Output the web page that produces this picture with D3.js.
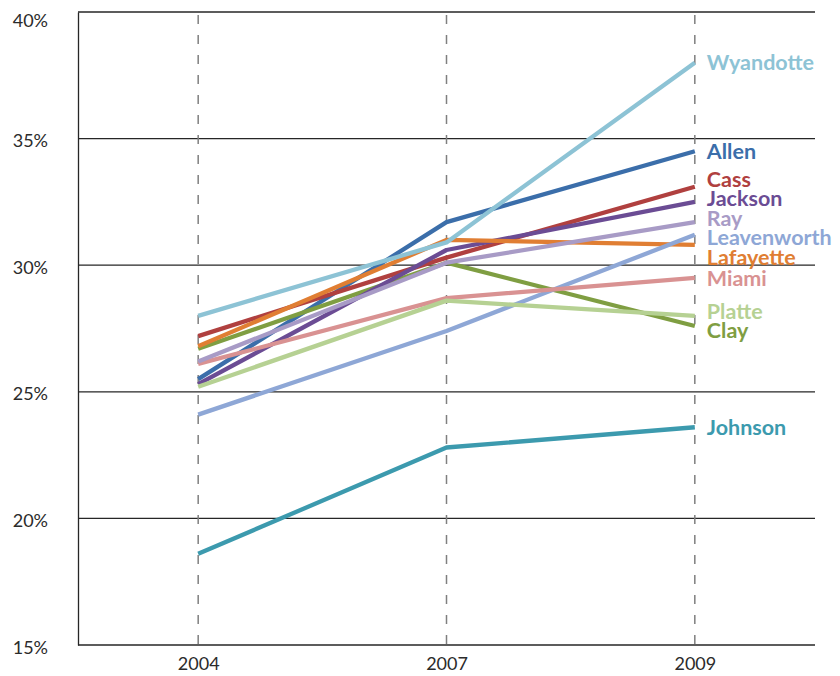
<!DOCTYPE html>
<html>
<head>
<meta charset="utf-8">
<script src="https://cdn.jsdelivr.net/npm/d3@7"></script>
<style>
  html, body { margin: 0; padding: 0; background: #fff; }
  svg { display: block; }
</style>
</head>
<body>
<svg id="chart" width="840" height="676"></svg>
<script>
// Share of population by county, 2004 / 2007 / 2009
const years = ["2004", "2007", "2009"];
const yTicks = [15, 20, 25, 30, 35, 40];

const allen       = [25.5, 31.7, 34.5];
const cass        = [27.2, 30.3, 33.1];
const clay        = [26.7, 30.1, 27.6];
const jackson     = [25.3, 30.6, 32.5];
const johnson     = [18.6, 22.8, 23.6];
const lafayette   = [26.8, 31.0, 30.8];
const leavenworth = [24.1, 27.4, 31.2];
const miami       = [26.1, 28.7, 29.5];
const platte      = [25.2, 28.6, 28.0];
const ray         = [26.2, 30.1, 31.7];
const wyandotte   = [28.0, 30.9, 38.0];

const series = [
  { name: "Allen",       values: allen,       color: "#3b6eaa" },
  { name: "Cass",        values: cass,        color: "#b0403f" },
  { name: "Clay",        values: clay,        color: "#7f9e42" },
  { name: "Jackson",     values: jackson,     color: "#6b4c94" },
  { name: "Johnson",     values: johnson,     color: "#3c9aae" },
  { name: "Lafayette",   values: lafayette,   color: "#e07e33" },
  { name: "Leavenworth", values: leavenworth, color: "#8ea7d6" },
  { name: "Miami",       values: miami,       color: "#d99292" },
  { name: "Platte",      values: platte,      color: "#b6d193" },
  { name: "Ray",         values: ray,         color: "#a89bc6" },
  { name: "Wyandotte",   values: wyandotte,   color: "#8dc3d5" }
];

const svg = d3.select("#chart");
const plot = { left: 78, right: 815, top: 12, bottom: 645 };

const x = d3.scalePoint().domain(years).range([plot.left, plot.right]).padding(0.484);
const y = d3.scaleLinear().domain([15, 40]).range([plot.bottom, plot.top]);

const font = "Lato, 'Open Sans', sans-serif";

// horizontal gridlines
svg.append("g")
  .selectAll("line")
  .data(yTicks.filter(t => t > 15))
  .join("line")
  .attr("x1", plot.left).attr("x2", plot.right)
  .attr("y1", d => y(d)).attr("y2", d => y(d))
  .attr("stroke", "#262626").attr("stroke-width", 1.3);

// dashed year guides
svg.append("g")
  .selectAll("line")
  .data(years)
  .join("line")
  .attr("x1", d => x(d)).attr("x2", d => x(d))
  .attr("y1", plot.top + 3).attr("y2", plot.bottom)
  .attr("stroke", "#7f7f7f").attr("stroke-width", 1.5)
  .attr("stroke-dasharray", "9,11");

// axes
const yAxis = d3.axisLeft(y).tickValues(yTicks).tickSize(0).tickPadding(30)
  .tickFormat(d => d + "%");
const gy = svg.append("g").attr("transform", `translate(${plot.left},0)`).call(yAxis);
gy.select(".domain").attr("stroke", "#262626").attr("stroke-width", 1.3);
gy.selectAll("text")
  .attr("font-family", font).attr("font-size", 18).attr("fill", "#2b2b2b")
  .attr("dy", "0.45em")
  .attr("y", d => (y(d) < 20 ? 6 : 0));

const xAxis = d3.axisBottom(x).tickSize(0).tickPadding(12);
const gx = svg.append("g").attr("transform", `translate(0,${plot.bottom})`).call(xAxis);
gx.select(".domain").attr("stroke", "#262626").attr("stroke-width", 1.3)
  .attr("d", `M${plot.left},0H${plot.right}`);
gx.selectAll("text")
  .attr("font-family", font).attr("font-size", 18).attr("fill", "#2b2b2b");

// series lines
const line = d3.line()
  .x((d, i) => x(years[i]))
  .y(d => y(d));

svg.append("g")
  .selectAll("path")
  .data(series)
  .join("path")
  .attr("d", d => line(d.values))
  .attr("fill", "none")
  .attr("stroke", d => d.color)
  .attr("stroke-width", 4.3)
  .attr("stroke-linejoin", "round");

// end labels, nudged apart so they do not collide
const gap = 19.6;
const labels = series.map(s => ({ s, target: y(s.values[2]) }))
  .sort((a, b) => a.target - b.target);
let groups = labels.map(l => ({ items: [l], center: l.target }));
let moved = true;
while (moved) {
  moved = false;
  for (let i = 0; i < groups.length - 1; i++) {
    const a = groups[i], b = groups[i + 1];
    const aBottom = a.center + (a.items.length - 1) * gap / 2;
    const bTop = b.center - (b.items.length - 1) * gap / 2;
    if (bTop - aBottom < gap) {
      const items = a.items.concat(b.items);
      const center = d3.mean(items, d => d.target);
      groups.splice(i, 2, { items, center });
      moved = true;
      break;
    }
  }
}
groups.forEach(g => {
  g.items.forEach((l, i) => {
    l.y = g.center + (i - (g.items.length - 1) / 2) * gap;
  });
});

svg.append("g")
  .selectAll("text")
  .data(labels)
  .join("text")
  .attr("x", x("2009") + 12)
  .attr("y", d => d.y)
  .attr("dy", "0.36em")
  .attr("font-family", font)
  .attr("font-weight", 700)
  .attr("font-size", 21.5)
  .attr("fill", d => d.s.color)
  .text(d => d.s.name);
</script>
</body>
</html>
